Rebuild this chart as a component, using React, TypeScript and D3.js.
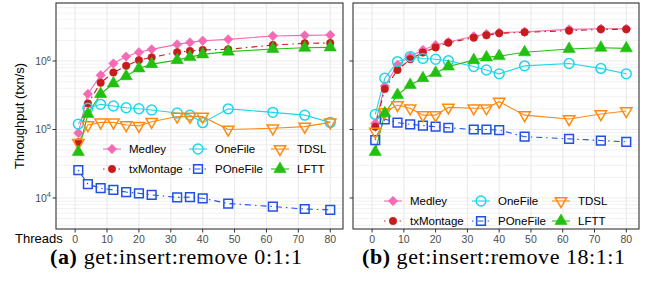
import React from "react";
import * as d3 from "d3";

// ---------- data ----------
const threads = [1, 4, 8, 12, 16, 20, 24, 32, 36, 40, 48, 62, 72, 80];
const xTicks = [0, 10, 20, 30, 40, 50, 60, 70, 80];
const yMajor = [1e4, 1e5, 1e6];
const seriesNames = ["Medley", "txMontage", "OneFile", "POneFile", "TDSL", "LFTT"];

// panel (a) get:insert:remove 0:1:1
const medleyA = [8.9e4, 3.3e5, 6.2e5, 9.2e5, 1.16e6, 1.34e6, 1.48e6, 1.75e6, 1.87e6, 1.98e6, 2.07e6, 2.32e6, 2.37e6, 2.4e6];
const txMontageA = [6.5e4, 2.4e5, 4.8e5, 6.8e5, 8.5e5, 1.03e6, 1.13e6, 1.34e6, 1.4e6, 1.45e6, 1.48e6, 1.71e6, 1.81e6, 1.83e6];
const oneFileA = [1.2e5, 2.04e5, 2.33e5, 2.2e5, 2.08e5, 2.01e5, 1.93e5, 1.74e5, 1.62e5, 1.26e5, 2.0e5, 1.78e5, 1.62e5, 1.27e5];
const pOneFileA = [2.56e4, 1.59e4, 1.39e4, 1.31e4, 1.22e4, 1.17e4, 1.11e4, 1.02e4, 1.03e4, 9.9e3, 8.3e3, 7.5e3, 6.9e3, 6.7e3];
const tdslA = [6.4e4, 1.16e5, 1.27e5, 1.27e5, 1.16e5, 1.13e5, 1.3e5, 1.55e5, 1.54e5, 1.54e5, 1.0e5, 1.04e5, 1.1e5, 1.27e5];
const lfttA = [4.7e4, 1.68e5, 3.3e5, 4.7e5, 6.0e5, 7.8e5, 9.0e5, 1.03e6, 1.14e6, 1.25e6, 1.37e6, 1.5e6, 1.56e6, 1.58e6];

// panel (b) get:insert:remove 18:1:1
const medleyB = [1.23e5, 4.3e5, 8.8e5, 1.16e6, 1.45e6, 1.71e6, 1.9e6, 2.3e6, 2.48e6, 2.6e6, 2.68e6, 2.9e6, 2.96e6, 2.96e6];
const txMontageB = [1.1e5, 3.9e5, 7.4e5, 1.06e6, 1.33e6, 1.58e6, 1.85e6, 2.19e6, 2.37e6, 2.54e6, 2.62e6, 2.77e6, 2.9e6, 2.9e6];
const oneFileB = [1.66e5, 5.6e5, 9.8e5, 1.16e6, 1.09e6, 1.06e6, 1.01e6, 8.3e5, 7.4e5, 6.5e5, 8.5e5, 9.2e5, 7.8e5, 6.5e5];
const pOneFileB = [7.0e4, 1.41e5, 1.26e5, 1.19e5, 1.14e5, 1.1e5, 1.06e5, 1.0e5, 1.0e5, 9.8e4, 7.85e4, 7.3e4, 6.9e4, 6.6e4];
const tdslB = [9.3e4, 1.8e5, 2.28e5, 2.04e5, 1.62e5, 1.62e5, 2.1e5, 2.04e5, 2.04e5, 2.55e5, 1.62e5, 1.42e5, 1.68e5, 1.86e5];
const lfttB = [4.7e4, 1.72e5, 3.2e5, 4.47e5, 5.6e5, 6.7e5, 8.3e5, 1.03e6, 1.13e6, 1.18e6, 1.34e6, 1.5e6, 1.56e6, 1.53e6];

const captionA = ["(a)", " get:insert:remove 0:1:1"];
const captionB = ["(b)", " get:insert:remove 18:1:1"];

// ---------- styles ----------
type Style = { color: string; dash?: string; shape: string; filled: boolean; size: number };
const styles: Record<string, Style> = {
  Medley: { color: "#f66ab4", shape: "diamond", filled: true, size: 44 },
  txMontage: { color: "#c81b1b", dash: "1.5,4,6,4", shape: "circle", filled: true, size: 44 },
  OneFile: { color: "#1fd6ea", shape: "circle", filled: false, size: 76 },
  POneFile: { color: "#2050e6", dash: "1.5,4,6,4", shape: "square", filled: false, size: 76 },
  TDSL: { color: "#ff8a10", shape: "triangleDown", filled: false, size: 56 },
  LFTT: { color: "#22c010", shape: "triangle", filled: true, size: 64 },
};

const FONT = "'Liberation Sans', Arial, Helvetica, sans-serif";
const SERIF = "'Liberation Serif', 'Times New Roman', serif";

const TOP = 3;
const BOTTOM = 229;
const yScale = d3.scaleLog().domain([Math.pow(10, 3.547), Math.pow(10, 6.847)]).range([BOTTOM, TOP]);

function yMinorValues(): number[] {
  const out: number[] = [];
  for (let e = 3; e <= 6; e++) for (let k = 2; k <= 9; k++) {
    const v = k * Math.pow(10, e);
    if (v > yScale.domain()[0] && v < yScale.domain()[1]) out.push(v);
  }
  return out;
}

function Marker({ name, cx, cy }: { name: string; cx: number; cy: number }) {
  const s = styles[name];
  let type: any = d3.symbolCircle;
  let rot = 0;
  if (s.shape === "diamond") { type = d3.symbolSquare; rot = 45; }
  if (s.shape === "square") type = d3.symbolSquare;
  if (s.shape === "triangle") type = d3.symbolTriangle;
  if (s.shape === "triangleDown") { type = d3.symbolTriangle; rot = 180; }
  const p = d3.symbol(type, s.size)() as string;
  return (
    <path
      d={p}
      transform={`translate(${cx},${cy}) rotate(${rot})`}
      fill={s.filled ? s.color : "none"}
      stroke={s.color}
      strokeWidth={s.filled ? 0.6 : 1.5}
    />
  );
}

type PanelProps = {
  x0: number; x1: number;
  data: Record<string, number[]>;
  legendKeys: number[]; legendRows: number[];
  showYLabels: boolean;
};

function Panel({ x0, x1, data, legendKeys, legendRows, showYLabels }: PanelProps) {
  const x = d3.scaleLinear().domain([-6, 84]).range([x0, x1]);
  const line = d3.line<number>().x((_, i) => x(threads[i])).y((d) => yScale(d));
  const grid = "#ebebeb";
  return (
    <g>
      {yMinorValues().map((v) => (
        <line key={"ym" + v} x1={x0} x2={x1} y1={yScale(v)} y2={yScale(v)} stroke={grid} strokeWidth={0.7} />
      ))}
      {yMajor.map((v) => (
        <line key={"yM" + v} x1={x0} x2={x1} y1={yScale(v)} y2={yScale(v)} stroke={grid} strokeWidth={1.2} />
      ))}
      {xTicks.map((t) => (
        <line key={"xg" + t} x1={x(t)} x2={x(t)} y1={TOP} y2={BOTTOM} stroke={grid} strokeWidth={1.2} />
      ))}
      {seriesNames.map((n) => (
        <path key={"l" + n} d={line(data[n]) as string} fill="none" stroke={styles[n].color}
          strokeWidth={1.1} strokeDasharray={styles[n].dash} />
      ))}
      {seriesNames.map((n) => (
        <g key={"p" + n}>
          {data[n].map((v, i) => <Marker key={i} name={n} cx={x(threads[i])} cy={yScale(v)} />)}
        </g>
      ))}
      {seriesNames.map((n, i) => {
        const col = Math.floor(i / 2);
        const row = i % 2;
        const kx = legendKeys[col];
        const ky = legendRows[row];
        return (
          <g key={"lg" + n}>
            <line x1={kx - 9} x2={kx + 9} y1={ky} y2={ky} stroke={styles[n].color} strokeWidth={1.1}
              strokeDasharray={styles[n].dash} />
            <Marker name={n} cx={kx} cy={ky} />
            <text x={kx + 17} y={ky + 4} fontFamily={FONT} fontSize={11.5} fill="#000">{n}</text>
          </g>
        );
      })}
      <rect x={x0} y={TOP} width={x1 - x0} height={BOTTOM - TOP} fill="none" stroke="#333" strokeWidth={1.1} />
      {xTicks.map((t) => (
        <g key={"xt" + t}>
          <line x1={x(t)} x2={x(t)} y1={BOTTOM} y2={BOTTOM + 3.5} stroke="#333" strokeWidth={1} />
          <text x={x(t)} y={243} textAnchor="middle" fontFamily={FONT} fontSize={10.5} fill="#4d4d4d">{t}</text>
        </g>
      ))}
      {yMajor.map((v) => (
        <g key={"yt" + v}>
          <line x1={x0 - 3.5} x2={x0} y1={yScale(v)} y2={yScale(v)} stroke="#333" strokeWidth={1} />
          {showYLabels && (
            <text x={x0 - 5} y={yScale(v) + 4} textAnchor="end" fontFamily={FONT} fontSize={10.5} fill="#4d4d4d">
              10<tspan dy={-4.5} fontSize={7.5}>{Math.round(Math.log10(v))}</tspan>
            </text>
          )}
        </g>
      ))}
    </g>
  );
}

export default function App() {
  const dataA: Record<string, number[]> = {
    Medley: medleyA, txMontage: txMontageA, OneFile: oneFileA, POneFile: pOneFileA, TDSL: tdslA, LFTT: lfttA,
  };
  const dataB: Record<string, number[]> = {
    Medley: medleyB, txMontage: txMontageB, OneFile: oneFileB, POneFile: pOneFileB, TDSL: tdslB, LFTT: lfttB,
  };
  return (
    <svg width={645} height={281} style={{ position: "absolute", left: 0, top: 0, background: "#fff" }}>
      <rect x={0} y={0} width={645} height={281} fill="#fff" />
      <Panel x0={56} x1={343} data={dataA} legendKeys={[112, 198, 280]} legendRows={[149, 169]} showYLabels={true} />
      <Panel x0={353} x1={639} data={dataB} legendKeys={[393, 481, 561]} legendRows={[201, 221]} showYLabels={false} />
      <text transform="translate(24,116) rotate(-90)" textAnchor="middle" fontFamily={FONT} fontSize={13} fill="#000">
        Throughput (txn/s)
      </text>
      <text x={15} y={243} fontFamily={FONT} fontSize={13} fill="#000">Threads</text>
      <text x={50} y={264} fontFamily={SERIF} fontSize={22} fill="#000" textLength={252} lengthAdjust="spacing">
        <tspan fontWeight="bold">{captionA[0]}</tspan>{captionA[1]}
      </text>
      <text x={362} y={264} fontFamily={SERIF} fontSize={22} fill="#000" textLength={263} lengthAdjust="spacing">
        <tspan fontWeight="bold">{captionB[0]}</tspan>{captionB[1]}
      </text>
    </svg>
  );
}
